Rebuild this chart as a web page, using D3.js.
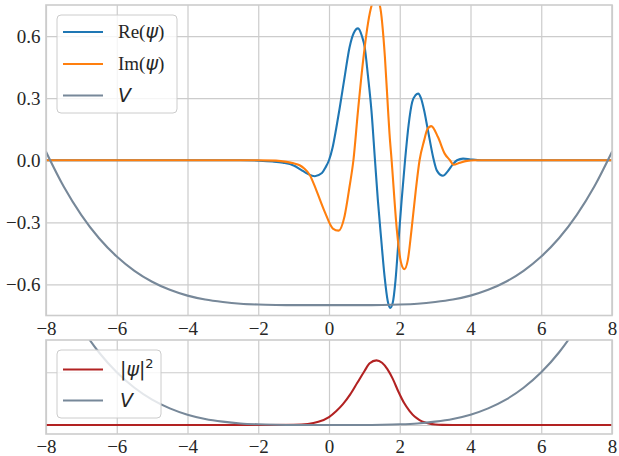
<!DOCTYPE html>
<html><head><meta charset="utf-8">
<script src="https://cdn.jsdelivr.net/npm/d3@7"></script>
<style>body{margin:0;background:#fff}svg{display:block}</style>
</head><body>
<svg id="c" width="619" height="456"></svg>
<script>
// ---------------- data ----------------
const xTicks = [-8, -6, -4, -2, 0, 2, 4, 6, 8];
const yTicksTop = [-0.6, -0.3, 0.0, 0.3, 0.6];
const yTickLabelsTop = ["\u22120.6", "\u22120.3", "0.0", "0.3", "0.6"];
const yGridBottom = [0, 0.5];

// Re(psi)
const reX = [-8, -2.5, -2.0, -1.6, -1.3, -1.0, -0.8, -0.6, -0.4, -0.2, -0.1, 0.0, 0.1, 0.2, 0.3, 0.44, 0.58, 0.70, 0.82, 0.93, 1.01, 1.10, 1.20, 1.30, 1.38, 1.48, 1.57, 1.66, 1.73, 1.80, 1.88, 1.96, 2.05, 2.15, 2.25, 2.35, 2.45, 2.52, 2.60, 2.69, 2.78, 2.85, 2.95, 3.05, 3.22, 3.35, 3.50, 3.62, 3.79, 4.0, 4.3, 8];
const reY = [0, 0, -0.002, -0.006, -0.012, -0.025, -0.045, -0.066, -0.077, -0.062, -0.035, 0.0, 0.06, 0.15, 0.25, 0.40, 0.545, 0.615, 0.637, 0.60, 0.545, 0.41, 0.24, 0.0, -0.19, -0.39, -0.56, -0.68, -0.713, -0.69, -0.58, -0.40, -0.20, 0.0, 0.17, 0.28, 0.315, 0.322, 0.30, 0.24, 0.16, 0.096, 0.01, -0.05, -0.075, -0.055, -0.02, 0.0, 0.008, 0.004, 0.0, 0];

// Im(psi)
const imX = [-8, -2.0, -1.5, -1.2, -1.0, -0.83, -0.7, -0.54, -0.36, -0.12, 0.11, 0.27, 0.44, 0.58, 0.69, 0.82, 0.97, 1.11, 1.20, 1.315, 1.44, 1.58, 1.67, 1.71, 1.77, 1.92, 2.03, 2.13, 2.23, 2.33, 2.45, 2.56, 2.69, 2.78, 2.89, 3.08, 3.27, 3.42, 3.52, 3.7, 3.9, 4.1, 8];
const imY = [0, 0, -0.002, -0.008, -0.015, -0.024, -0.04, -0.072, -0.144, -0.249, -0.33, -0.34, -0.27, -0.128, 0.0, 0.24, 0.49, 0.67, 0.745, 0.79, 0.745, 0.50, 0.24, 0.13, 0.0, -0.34, -0.49, -0.526, -0.48, -0.34, -0.15, 0.0, 0.096, 0.15, 0.165, 0.112, 0.032, 0.0, -0.022, -0.012, -0.003, 0, 0];

// |psi|^2
const rhoX = [-8, -2.0, -1.0, -0.6, -0.3, 0.0, 0.2, 0.4, 0.6, 0.8, 1.0, 1.15, 1.34, 1.5, 1.65, 1.8, 1.97, 2.12, 2.28, 2.42, 2.56, 2.70, 2.85, 3.0, 3.2, 3.5, 8];
const rhoY = [0, 0, 0.003, 0.01, 0.03, 0.075, 0.13, 0.20, 0.29, 0.40, 0.51, 0.585, 0.613, 0.59, 0.53, 0.44, 0.31, 0.21, 0.132, 0.08, 0.047, 0.025, 0.012, 0.005, 0.001, 0, 0];

// potential V
const vX = [-8, -7.5, -7, -6.5, -6, -5.5, -5, -4.5, -4, -3.5, -3, -2.5, -2, -1.5, -1, -0.5, 0, 0.5, 1, 1.5, 2, 2.5, 3, 3.5, 4, 4.5, 5, 5.5, 6, 6.5, 7, 7.5, 8];
const vY = [0.041, -0.127, -0.265, -0.377, -0.465, -0.534, -0.587, -0.626, -0.654, -0.673, -0.685, -0.693, -0.697, -0.699, -0.700, -0.700, -0.700, -0.700, -0.700, -0.699, -0.697, -0.693, -0.685, -0.673, -0.654, -0.626, -0.587, -0.534, -0.465, -0.377, -0.265, -0.127, 0.041];

// ---------------- layout ----------------
const C = {re: "#1f77b4", im: "#ff7f0e", v: "#778899", rho: "#b22222", grid: "#cccccc"};
const L = 46, R = 612;
const top1 = 5, bot1 = 315.5, top2 = 340, bot2 = 434;
const serif = "'Liberation Serif', 'Times New Roman', serif";
const sans = "'DejaVu Sans', sans-serif";
const FS = 19;

const svg = d3.select("#c");
const x = d3.scaleLinear().domain([-8, 8]).range([L, R]);
const yT = d3.scaleLinear().domain([-0.75, 0.75]).range([bot1, top1]);
const yB = d3.scaleLinear().domain([-0.0854, 0.806]).range([bot2, top2]);
const yVB = d3.scaleLinear().domain([-0.70, -0.465]).range([yB(0), yB(0.5)]);

const fmtX = d => (d < 0 ? "\u2212" + Math.abs(d) : String(d));

const defs = svg.append("defs");
defs.append("clipPath").attr("id", "clipT").append("rect").attr("x", L).attr("y", top1).attr("width", R - L).attr("height", bot1 - top1);
defs.append("clipPath").attr("id", "clipB").append("rect").attr("x", L).attr("y", top2).attr("width", R - L).attr("height", bot2 - top2);

function styleAxis(g) {
  g.attr("font-family", serif).attr("font-size", FS);
  g.select(".domain").remove();
  g.selectAll(".tick line").attr("stroke", C.grid).attr("stroke-width", 1.2);
  g.selectAll(".tick text").attr("fill", "#262626")
    .attr("font-family", serif).style("font-family", serif).style("font-size", FS + "px");
}

function panel(yS, yTop, yBot, yTickVals, yLabels) {
  const g = svg.append("g");
  g.append("g").attr("transform", `translate(0,${yBot})`)
    .call(d3.axisBottom(x).tickValues(xTicks).tickSize(-(yBot - yTop)).tickPadding(6).tickFormat(fmtX))
    .call(styleAxis);
  const ya = d3.axisLeft(yS).tickValues(yTickVals).tickSize(-(R - L)).tickPadding(5.5)
    .tickFormat((d, i) => yLabels ? yLabels[i] : "");
  g.append("g").attr("transform", `translate(${L},0)`).call(ya).call(styleAxis);
  return g;
}

const gT = panel(yT, top1, bot1, yTicksTop, yTickLabelsTop);
const gB = panel(yB, top2, bot2, yGridBottom, null);

function series(g, xs, ys, xS, yS, color, clip) {
  const pts = xs.map((d, i) => [d, ys[i]]);
  g.append("path").datum(pts)
    .attr("clip-path", `url(#${clip})`)
    .attr("fill", "none").attr("stroke", color).attr("stroke-width", 2.1)
    .attr("stroke-linejoin", "round").attr("stroke-linecap", "round")
    .attr("d", d3.line().x(d => xS(d[0])).y(d => yS(d[1])).curve(d3.curveMonotoneX));
}

series(gT, reX, reY, x, yT, C.re, "clipT");
series(gT, imX, imY, x, yT, C.im, "clipT");
series(gT, vX, vY, x, yT, C.v, "clipT");

series(gB, rhoX, rhoY, x, yB, C.rho, "clipB");
series(gB, vX, vY, x, yVB, C.v, "clipB");

// frames (spines)
[[top1, bot1], [top2, bot2]].forEach(([a, b]) => {
  svg.append("rect").attr("x", L).attr("y", a).attr("width", R - L).attr("height", b - a)
    .attr("fill", "none").attr("stroke", C.grid).attr("stroke-width", 1.6);
});

// legends
function legend(x0, y0, w, h, entries) {
  const g = svg.append("g");
  g.append("rect").attr("x", x0).attr("y", y0).attr("width", w).attr("height", h)
    .attr("rx", 4).attr("fill", "#fff").attr("fill-opacity", 0.8)
    .attr("stroke", C.grid).attr("stroke-width", 1);
  entries.forEach(e => {
    g.append("line").attr("x1", 63).attr("x2", 103).attr("y1", e.y).attr("y2", e.y)
      .attr("stroke", e.color).attr("stroke-width", 2.1);
    const t = g.append("text").attr("x", e.tx).attr("y", e.y + 6.3)
      .attr("fill", "#262626").style("font-size", FS + "px");
    e.parts.forEach(p => {
      const s = t.append("tspan").text(p.t).style("font-family", p.f === "s" ? sans : serif);
      if (p.i) s.style("font-style", "italic");
      if (p.sup) s.attr("dy", -8).style("font-size", "13px");
    });
  });
}

legend(57, 15, 120, 98, [
  {y: 32, tx: 118, color: C.re, parts: [{t: "Re(", f: "r"}, {t: "\u03c8", f: "s", i: true}, {t: ")", f: "r"}]},
  {y: 64, tx: 118, color: C.im, parts: [{t: "Im(", f: "r"}, {t: "\u03c8", f: "s", i: true}, {t: ")", f: "r"}]},
  {y: 95.5, tx: 118, color: C.v, parts: [{t: "V", f: "s", i: true}]}
]);
legend(57, 350, 104, 68, [
  {y: 369.5, tx: 120, color: C.rho, parts: [{t: "|", f: "s"}, {t: "\u03c8", f: "s", i: true}, {t: "|", f: "s"}, {t: "2", f: "s", sup: true}]},
  {y: 400.5, tx: 120, color: C.v, parts: [{t: "V", f: "s", i: true}]}
]);
</script>
</body></html>
